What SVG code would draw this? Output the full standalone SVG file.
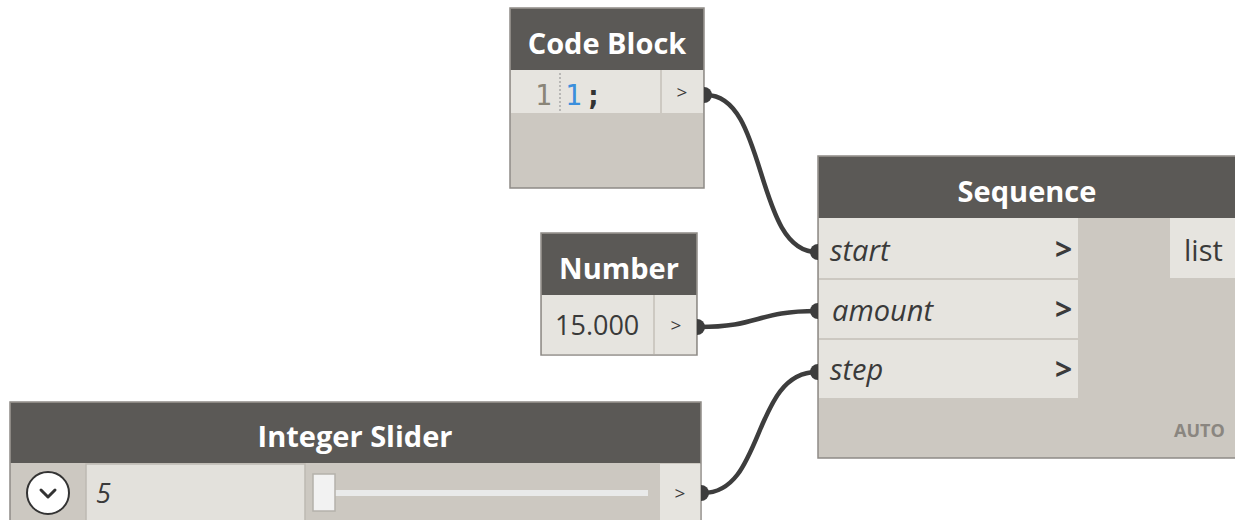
<svg xmlns="http://www.w3.org/2000/svg" width="1235" height="520" viewBox="0 0 1235 520">
<style>
.hdr{fill:#5b5956}
.body{fill:#ccc8c1;stroke:#8e8b86;stroke-width:1.5}
.row{fill:#e6e4df}
.ttl{font-family:"Open Sans",sans-serif;font-weight:bold;font-size:29px;fill:#ffffff;text-anchor:middle}
.lbl{font-family:"Open Sans",sans-serif;font-style:italic;font-size:29px;fill:#3a3a3a}
.reg{font-family:"Open Sans",sans-serif;font-size:29px;fill:#3a3a3a}
.chev{font-family:"Open Sans",sans-serif;font-weight:bold;font-size:30px;fill:#3a3a3a}
.btn{font-family:"Open Sans",sans-serif;font-size:19px;fill:#3a3a3a;text-anchor:middle}
.wire{fill:none;stroke:#3d3d3d;stroke-width:4.5;stroke-linecap:round}
.nub{fill:#3d3d3d}
.sep{stroke:#c4c0b9;stroke-width:1.5}
.mono{font-family:"DejaVu Sans Mono",monospace;font-size:28px}
</style>

<g id="connectors">
  <path class="wire" d="M706 95 C768 95 754 252 817 252"/>
  <path class="wire" d="M699 327 C760 327 756 311 817 311"/>
  <path class="wire" d="M703 493 C765 493 752 372 817 372"/>
</g>

<g id="code-block">
  <rect class="body" x="510" y="8" width="194" height="180"/>
  <rect class="hdr" x="510.75" y="8.75" width="192.5" height="61.25"/>
  <text class="ttl" x="607" y="54">Code Block</text>
  <rect class="row" x="511" y="70" width="192" height="43"/>
  <line class="sep" x1="661" y1="70" x2="661" y2="113"/>
  <line x1="560" y1="73" x2="560" y2="111" stroke="#9a9a9a" stroke-width="1.2" stroke-dasharray="2 2"/>
  <text class="mono" x="535" y="105" fill="#8a8578">1</text>
  <text class="mono" x="565" y="105" fill="#3b8fdc">1</text>
  <text class="mono" x="585" y="105" fill="#333333" font-weight="bold">;</text>
  <text class="btn" x="682" y="99">&gt;</text>
  <path class="nub" d="M704 87 A8 8 0 0 1 704 103 Z"/>
</g>

<g id="number">
  <rect class="body" x="541" y="233" width="156" height="122"/>
  <rect class="hdr" x="541.75" y="233.75" width="154.5" height="61.25"/>
  <text class="ttl" x="619" y="279">Number</text>
  <rect class="row" x="542" y="295" width="154" height="59.25"/>
  <line class="sep" x1="654" y1="295" x2="654" y2="354"/>
  <text x="555" y="335" font-family="'Open Sans',sans-serif" font-size="27" fill="#3a3a3a">15.000</text>
  <text class="btn" x="676" y="332">&gt;</text>
  <path class="nub" d="M697 319 A8 8 0 0 1 697 335 Z"/>
</g>

<g id="integer-slider">
  <rect class="body" x="10" y="402" width="691" height="130"/>
  <rect class="hdr" x="10.75" y="402.75" width="689.5" height="60.25"/>
  <text class="ttl" x="355" y="447">Integer Slider</text>
  <rect x="86" y="464" width="219" height="60" fill="#e3e1dc" stroke="#bdb9b2" stroke-width="1.5"/>
  <rect x="660" y="464" width="40.25" height="60" fill="#e6e4df"/>
  <circle cx="48" cy="493" r="21" fill="#ffffff" stroke="#333333" stroke-width="2"/>
  <path d="M41 490 L48 497 L55 490" fill="none" stroke="#333333" stroke-width="3" stroke-linecap="round" stroke-linejoin="round"/>
  <text x="96" y="503" font-family="'Open Sans',sans-serif" font-style="italic" font-size="27" fill="#3a3a3a">5</text>
  <rect x="334" y="490" width="314" height="6" fill="#e9eaea"/>
  <rect x="313" y="474" width="22" height="37" fill="#f2f2f2" stroke="#b4b1ab" stroke-width="1.5"/>
  <text class="btn" x="680" y="500">&gt;</text>
  <path class="nub" d="M701 485 A8 8 0 0 1 701 501 Z"/>
</g>

<g id="sequence">
  <rect class="body" x="818" y="156" width="430" height="302"/>
  <rect class="hdr" x="818.75" y="156.75" width="430" height="61.25"/>
  <text class="ttl" x="1027" y="202">Sequence</text>
  <rect class="row" x="819" y="218" width="259" height="60"/>
  <rect class="row" x="819" y="280" width="259" height="58"/>
  <rect class="row" x="819" y="340" width="259" height="58"/>
  <rect class="row" x="1170" y="218" width="70" height="60"/>
  <text class="lbl" x="830" y="261">start</text>
  <text class="lbl" x="832" y="321">amount</text>
  <text class="lbl" x="830" y="380">step</text>
  <text class="chev" x="1055" y="260">&gt;</text>
  <text class="chev" x="1055" y="320">&gt;</text>
  <text class="chev" x="1055" y="380">&gt;</text>
  <text class="reg" x="1184" y="261">list</text>
  <text x="1174" y="437" font-family="'Open Sans',sans-serif" font-weight="bold" font-size="18" fill="#8a8680">AUTO</text>
  <path class="nub" d="M818 244 A8 8 0 0 0 818 260 Z"/>
  <path class="nub" d="M818 303 A8 8 0 0 0 818 319 Z"/>
  <path class="nub" d="M818 364 A8 8 0 0 0 818 380 Z"/>
</g>
</svg>
